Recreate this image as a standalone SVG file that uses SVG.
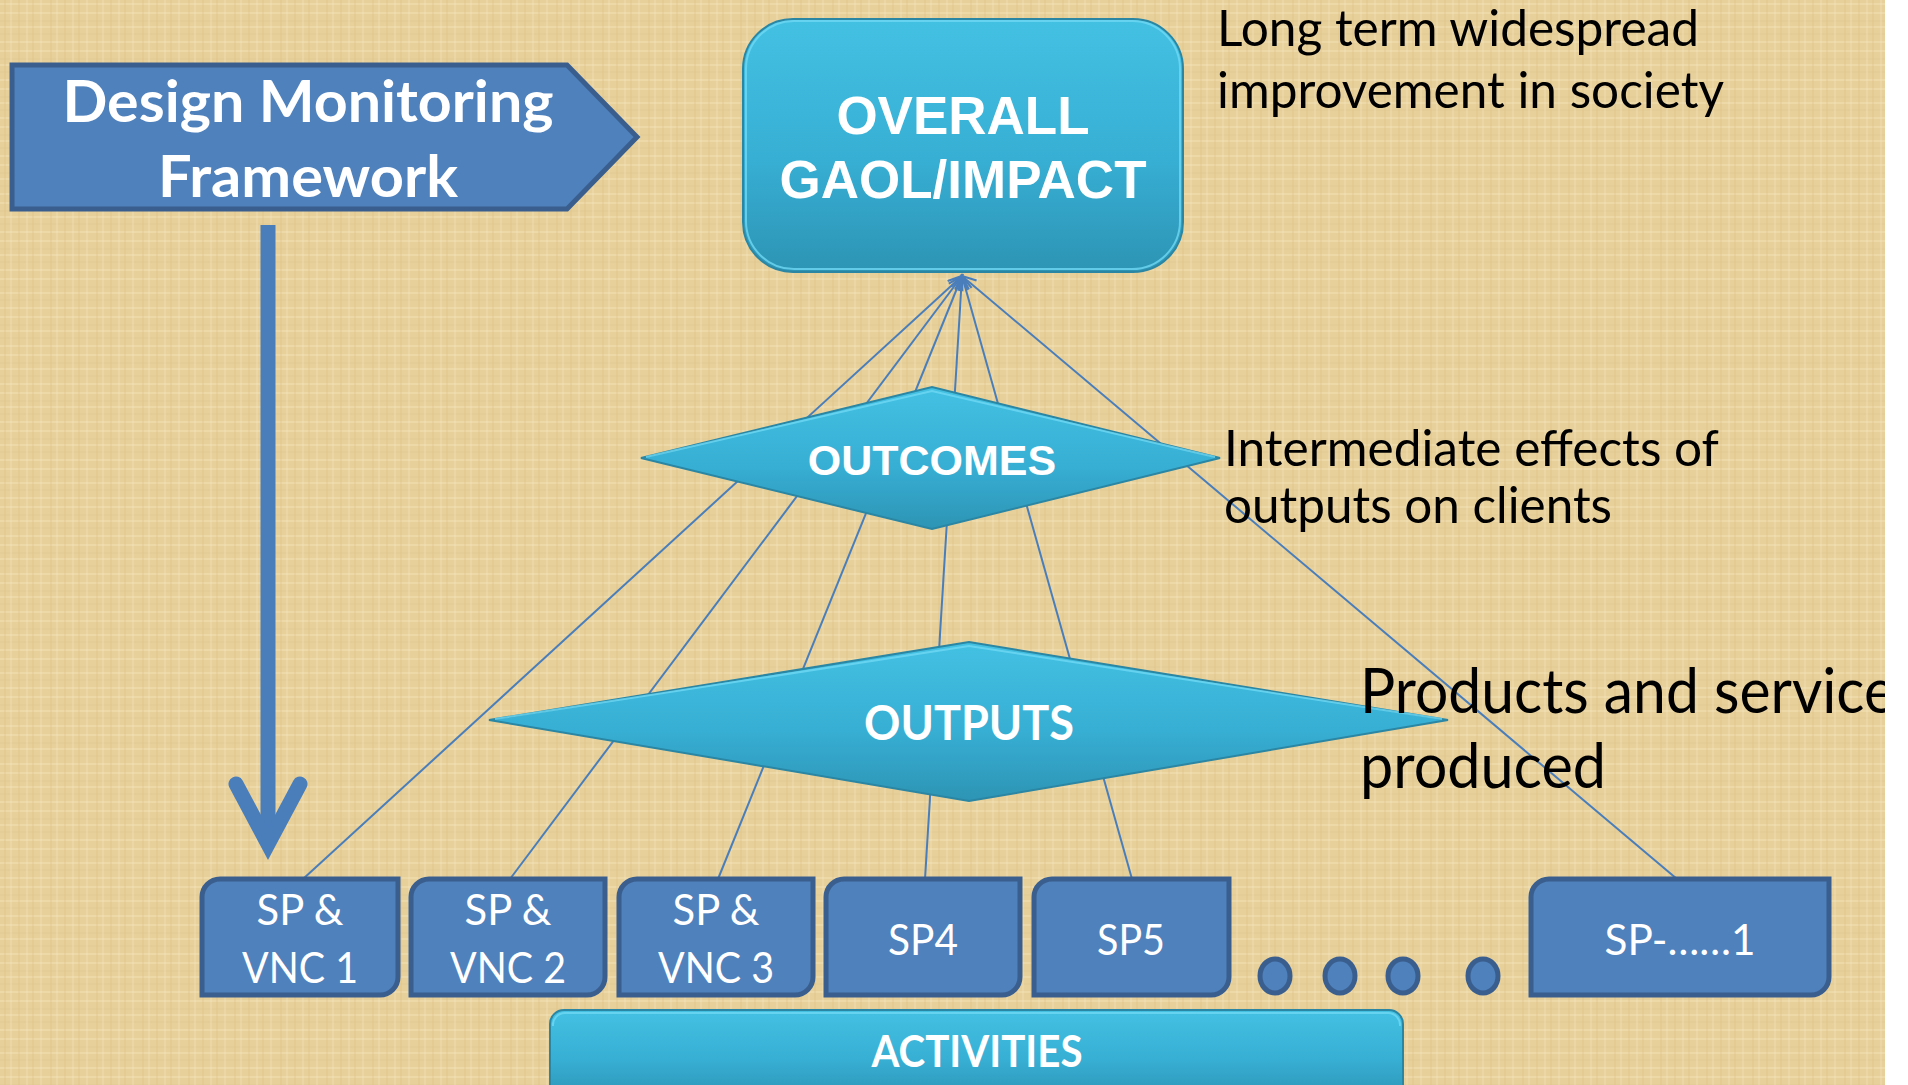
<svg xmlns="http://www.w3.org/2000/svg" width="1908" height="1085" viewBox="0 0 1908 1085">
<defs>
<pattern id="tex" width="46" height="38" patternUnits="userSpaceOnUse">
<rect width="46" height="38" fill="#e8d09b"/>
<path d="M0 4H46M0 13H46M0 27H46" stroke="#f4e4bb" stroke-width="1.5" opacity="0.5"/>
<path d="M0 21H46M0 34H46" stroke="#d9be82" stroke-width="1" opacity="0.35"/>
<path d="M5 0V38M19 0V38M33 0V38" stroke="#d3b574" stroke-width="1.2" opacity="0.3"/>
<path d="M11 0V38M27 0V38M41 0V38" stroke="#f6e8c4" stroke-width="1.4" opacity="0.4"/>
</pattern>
<linearGradient id="cyan" x1="0" y1="0" x2="0" y2="1">
<stop offset="0" stop-color="#43c1e3"/>
<stop offset="0.55" stop-color="#37afd4"/>
<stop offset="1" stop-color="#2d94b4"/>
</linearGradient>
<marker id="arr" markerUnits="userSpaceOnUse" markerWidth="20" markerHeight="16" refX="15" refY="7" orient="auto">
<path d="M1 1 L15 7 L1 13" fill="none" stroke="#4a7ebb" stroke-width="2.2"/>
</marker>
<style>
.conn{stroke:#4a7ebb;stroke-width:2;fill:none;marker-end:url(#arr)}
.blue{fill:#4f81bd;stroke:#3a5f8e;stroke-width:5}
.cy{fill:url(#cyan);stroke:#2a86a3;stroke-width:2}
.bev{fill:none;stroke:#6fd8f4;stroke-width:2;opacity:0.8}
.wb{font-family:Lato,"Open Sans",sans-serif;font-weight:bold;fill:#ffffff;text-anchor:middle}
.wa{font-family:"Liberation Sans",Arial,sans-serif;font-weight:bold;fill:#ffffff;text-anchor:middle}
.wr{font-family:Lato,"Open Sans",sans-serif;fill:#ffffff;text-anchor:middle}
.note{font-family:Lato,"Open Sans",sans-serif;fill:#000000}
</style>
</defs>
<rect x="0" y="0" width="1908" height="1085" fill="url(#tex)"/>

<g id="dmf-arrow">
<line x1="268" y1="225" x2="268" y2="842" stroke="#4a7ebb" stroke-width="15"/>
<polyline points="236,784 268,844 300,784" fill="none" stroke="#4a7ebb" stroke-width="15" stroke-linecap="round" stroke-linejoin="miter"/>
</g>

<g id="connectors">
<line class="conn" x1="303" y1="879" x2="962" y2="276"/>
<line class="conn" x1="510" y1="879" x2="962" y2="276"/>
<line class="conn" x1="718" y1="879" x2="962" y2="276"/>
<line class="conn" x1="925" y1="879" x2="962" y2="276"/>
<line class="conn" x1="1132" y1="879" x2="962" y2="276"/>
<line class="conn" x1="1677" y1="879" x2="962" y2="276"/>
</g>

<g id="dmf">
<polygon class="blue" points="12,65 567,65 637,137 567,209 12,209"/>
<text class="wb" x="308" y="122" font-size="58" textLength="491" lengthAdjust="spacingAndGlyphs">Design Monitoring</text>
<text class="wb" x="308" y="197" font-size="58" textLength="300" lengthAdjust="spacingAndGlyphs">Framework</text>
</g>

<g id="impact">
<rect class="cy" x="743" y="19" width="440" height="253" rx="50" ry="50"/>
<rect class="bev" x="746" y="21" width="434" height="248" rx="48" ry="48"/>
<text class="wa" x="963" y="134" font-size="53">OVERALL</text>
<text class="wa" x="963" y="198" font-size="53">GAOL/IMPACT</text>
</g>

<g id="impact-note">
<text class="note" x="1217" y="46" font-size="50" textLength="482" lengthAdjust="spacingAndGlyphs">Long term widespread</text>
<text class="note" x="1217" y="108" font-size="50" textLength="507" lengthAdjust="spacingAndGlyphs">improvement in society</text>
</g>

<g id="outcomes">
<polygon class="cy" points="641,458 932,387 1220,458 932,529"/>
<polyline class="bev" points="646,457 932,391 1215,457"/>
<text class="wa" x="932" y="475" font-size="43">OUTCOMES</text>
</g>

<g id="outcomes-note">
<text class="note" x="1224" y="466" font-size="50" textLength="495" lengthAdjust="spacingAndGlyphs">Intermediate effects of</text>
<text class="note" x="1224" y="523" font-size="50" textLength="388" lengthAdjust="spacingAndGlyphs">outputs on clients</text>
</g>

<g id="outputs">
<polygon class="cy" points="489,720 969,642 1448,720 969,801"/>
<polyline class="bev" points="495,719 969,646 1442,719"/>
<text class="wb" x="969" y="740" font-size="47" textLength="210" lengthAdjust="spacingAndGlyphs">OUTPUTS</text>
</g>

<g id="outputs-note">
<text class="note" x="1360" y="713" font-size="62" textLength="535" lengthAdjust="spacingAndGlyphs">Products and service</text>
<text class="note" x="1360" y="788" font-size="62" textLength="246" lengthAdjust="spacingAndGlyphs">produced</text>
</g>

<g id="sp1">
<path class="blue" d="M202 897 A18 18 0 0 1 220 879 H398 V977 A18 18 0 0 1 380 995 H202 Z"/>
<text class="wr" x="300" y="925" font-size="42" textLength="87" lengthAdjust="spacingAndGlyphs">SP &amp;</text>
<text class="wr" x="300" y="983" font-size="42" textLength="116" lengthAdjust="spacingAndGlyphs">VNC 1</text>
</g>
<g id="sp2">
<path class="blue" d="M411 897 A18 18 0 0 1 429 879 H605 V977 A18 18 0 0 1 587 995 H411 Z"/>
<text class="wr" x="508" y="925" font-size="42" textLength="87" lengthAdjust="spacingAndGlyphs">SP &amp;</text>
<text class="wr" x="508" y="983" font-size="42" textLength="116" lengthAdjust="spacingAndGlyphs">VNC 2</text>
</g>
<g id="sp3">
<path class="blue" d="M619 897 A18 18 0 0 1 637 879 H813 V977 A18 18 0 0 1 795 995 H619 Z"/>
<text class="wr" x="716" y="925" font-size="42" textLength="87" lengthAdjust="spacingAndGlyphs">SP &amp;</text>
<text class="wr" x="716" y="983" font-size="42" textLength="116" lengthAdjust="spacingAndGlyphs">VNC 3</text>
</g>
<g id="sp4">
<path class="blue" d="M826 897 A18 18 0 0 1 844 879 H1020 V977 A18 18 0 0 1 1002 995 H826 Z"/>
<text class="wr" x="923" y="955" font-size="42" textLength="70" lengthAdjust="spacingAndGlyphs">SP4</text>
</g>
<g id="sp5">
<path class="blue" d="M1034 897 A18 18 0 0 1 1052 879 H1229 V977 A18 18 0 0 1 1211 995 H1034 Z"/>
<text class="wr" x="1131" y="955" font-size="42" textLength="68" lengthAdjust="spacingAndGlyphs">SP5</text>
</g>
<g id="dots">
<ellipse class="blue" cx="1275" cy="976" rx="15" ry="17"/>
<ellipse class="blue" cx="1340" cy="976" rx="15" ry="17"/>
<ellipse class="blue" cx="1403" cy="976" rx="15" ry="17"/>
<ellipse class="blue" cx="1483" cy="976" rx="15" ry="17"/>
</g>
<g id="spn">
<path class="blue" d="M1531 897 A18 18 0 0 1 1549 879 H1829 V977 A18 18 0 0 1 1811 995 H1531 Z"/>
<text class="wr" x="1680" y="955" font-size="42" textLength="151" lengthAdjust="spacingAndGlyphs">SP-……1</text>
</g>

<g id="activities">
<path class="cy" d="M550 1100 V1024 A14 14 0 0 1 564 1010 H1389 A14 14 0 0 1 1403 1024 V1100 Z"/>
<path class="bev" d="M553 1026 A12 12 0 0 1 565 1013 H1388 A12 12 0 0 1 1400 1026"/>
<text class="wb" x="977" y="1067" font-size="44" textLength="211" lengthAdjust="spacingAndGlyphs">ACTIVITIES</text>
</g>

<rect x="1885" y="0" width="23" height="1085" fill="#ffffff"/>
</svg>
